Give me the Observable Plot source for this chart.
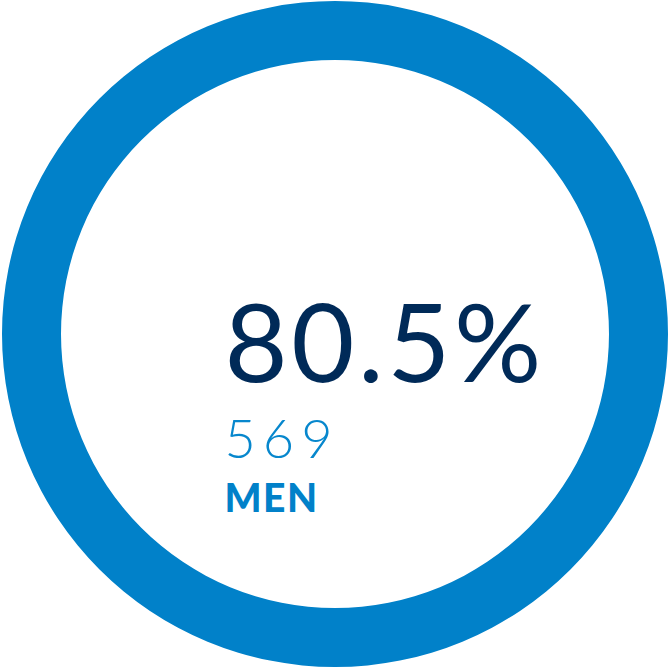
<!DOCTYPE html>
<html>
<head>
<meta charset="utf-8">
<script src="https://cdn.jsdelivr.net/npm/d3@7"></script>
<script src="https://cdn.jsdelivr.net/npm/@observablehq/plot@0.6"></script>
<style>
  html, body { margin: 0; padding: 0; background: #fff; }
  #chart svg { display: block; }
</style>
</head>
<body>
<div id="chart"></div>
<script>
// Data
const segments = ["Men"];
const segmentShares = [1];          // the ring is drawn full
const percentLabel = ["80.5%"];
const countLabel = ["569"];
const groupLabel = ["MEN"];

const W = 670, H = 669;
const cx = 335, cy = 334, rOuter = 333, rInner = 274;

const ringData = segments.map((s, i) => ({name: s, share: segmentShares[i]}));

function ringMark(data) {
  return (index, scales, values, dims) => {
    const pie = d3.pie().sort(null).value(d => d.share)(data);
    const x0 = scales.x(cx), y0 = scales.y(cy);
    const ro = scales.x(cx + rOuter) - x0;
    const ri = scales.x(cx + rInner) - x0;
    const arc = d3.arc().innerRadius(ri).outerRadius(ro);
    const g = d3.create("svg:g").attr("transform", `translate(${x0},${y0})`);
    g.selectAll("path").data(pie).join("path")
      .attr("d", arc)
      .attr("fill", "#0181C9");
    return g.node();
  };
}

const chart = Plot.plot({
  width: W,
  height: H,
  margin: 0,
  x: {domain: [0, W], range: [0, W], axis: null},
  y: {domain: [0, H], range: [0, H], axis: null},
  marks: [
    ringMark(ringData),
    Plot.text(percentLabel, {
      x: () => 224, y: () => 381, text: d => d,
      textAnchor: "start", lineAnchor: "bottom",
      fontSize: 109, fontFamily: "Lato", fontWeight: 400,
      fill: "#002A58"
    }),
    Plot.text(countLabel, {
      x: () => 224, y: () => 457, text: d => d,
      textAnchor: "start", lineAnchor: "bottom",
      fontSize: 54, fontFamily: "Lato", fontWeight: 300,
      fill: "#0787CD"
    }),
    Plot.text(groupLabel, {
      x: () => 224, y: () => 511, text: d => d,
      textAnchor: "start", lineAnchor: "bottom",
      fontSize: 39, fontFamily: "Lato", fontWeight: 900,
      fill: "#0181C9"
    })
  ]
});
// letter spacing (not a Plot.text option)
const spacing = new Map([[percentLabel[0], "3.5px"], [countLabel[0], "7px"], [groupLabel[0], "1.5px"]]);
d3.select(chart).selectAll("text").each(function() {
  const s = spacing.get(this.textContent);
  if (s) this.style.letterSpacing = s;
});
document.getElementById("chart").append(chart);
</script>
</body>
</html>
